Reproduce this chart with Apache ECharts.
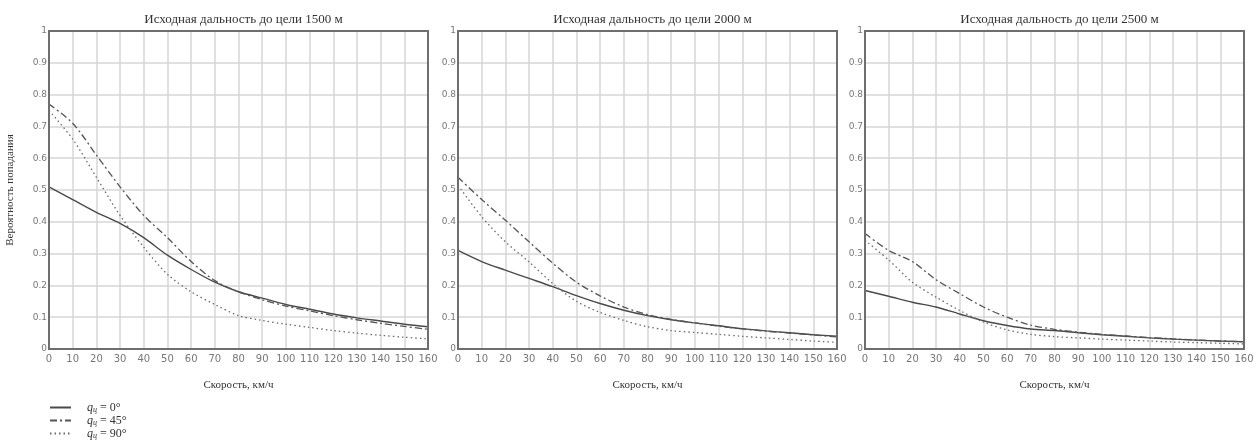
<!DOCTYPE html>
<html>
<head>
<meta charset="utf-8">
<script src="https://cdn.jsdelivr.net/npm/echarts@6/dist/echarts.min.js"></script>
<style>
  html, body { margin: 0; padding: 0; background: #fff; }
  #chart { width: 1258px; height: 445px; }
</style>
</head>
<body>
<div id="chart"></div>
<script>
// Скорость цели, км/ч
const speeds = [0, 10, 20, 30, 40, 50, 60, 70, 80, 90, 100, 110, 120, 130, 140, 150, 160];

// Вероятность попадания, дальность 1500 м
const r1500_q0  = [0.51, 0.47, 0.43, 0.395, 0.35, 0.295, 0.25, 0.21, 0.18, 0.16, 0.14, 0.125, 0.11, 0.098, 0.088, 0.078, 0.07];
const r1500_q45 = [0.77, 0.71, 0.61, 0.51, 0.42, 0.35, 0.275, 0.215, 0.18, 0.155, 0.135, 0.12, 0.105, 0.092, 0.081, 0.071, 0.062];
const r1500_q90 = [0.75, 0.66, 0.54, 0.42, 0.32, 0.235, 0.18, 0.14, 0.105, 0.09, 0.078, 0.068, 0.058, 0.05, 0.043, 0.037, 0.032];

// Дальность 2000 м
const r2000_q0  = [0.31, 0.275, 0.248, 0.222, 0.196, 0.168, 0.143, 0.122, 0.105, 0.092, 0.082, 0.073, 0.064, 0.057, 0.051, 0.045, 0.04];
const r2000_q45 = [0.54, 0.47, 0.405, 0.337, 0.27, 0.21, 0.167, 0.132, 0.108, 0.093, 0.082, 0.072, 0.063, 0.056, 0.05, 0.044, 0.038];
const r2000_q90 = [0.515, 0.416, 0.337, 0.274, 0.206, 0.15, 0.115, 0.09, 0.07, 0.058, 0.052, 0.046, 0.04, 0.035, 0.03, 0.025, 0.021];

// Дальность 2500 м
const r2500_q0  = [0.184, 0.166, 0.147, 0.132, 0.11, 0.089, 0.074, 0.063, 0.058, 0.051, 0.045, 0.04, 0.035, 0.031, 0.028, 0.025, 0.023];
const r2500_q45 = [0.363, 0.31, 0.275, 0.218, 0.174, 0.132, 0.1, 0.075, 0.062, 0.053, 0.046, 0.041, 0.036, 0.032, 0.028, 0.025, 0.023];
const r2500_q90 = [0.342, 0.28, 0.21, 0.163, 0.121, 0.085, 0.06, 0.046, 0.039, 0.035, 0.031, 0.028, 0.025, 0.022, 0.02, 0.018, 0.016];

const panelTitles = [
  'Исходная дальность до цели 1500 м',
  'Исходная дальность до цели 2000 м',
  'Исходная дальность до цели 2500 м'
];
const seriesNames = ['q0', 'q45', 'q90'];
const legendLabels = { q0: '0°', q45: '45°', q90: '90°' };
const panelData = [
  [r1500_q0, r1500_q45, r1500_q90],
  [r2000_q0, r2000_q45, r2000_q90],
  [r2500_q0, r2500_q45, r2500_q90]
];

const xAxisName = 'Скорость, км/ч';
const yAxisName = 'Вероятность попадания';

const gridLefts = [49, 458, 865];
const gridWidth = 379;
const gridTop = 31;
const gridHeight = 318;

const lineStyles = [
  { color: '#4a4a4a', width: 1.4, type: 'solid' },
  { color: '#555555', width: 1.3, type: [7, 3, 2, 3] },
  { color: '#6a6a6a', width: 1.3, type: [1.5, 3] }
];

const serif = '"Liberation Serif", "DejaVu Serif", serif';

const grids = [], xAxes = [], yAxes = [], titles = [], series = [];
gridLefts.forEach((left, i) => {
  grids.push({ left: left, top: gridTop, width: gridWidth, height: gridHeight, show: false });
  titles.push({
    text: panelTitles[i],
    left: left + gridWidth / 2,
    top: 8,
    textAlign: 'center',
    textStyle: { fontFamily: serif, fontSize: 13, fontWeight: 'normal', color: '#333' }
  });
  xAxes.push({
    type: 'value', gridIndex: i, min: 0, max: 160, interval: 10,
    name: xAxisName, nameLocation: 'middle', nameGap: 31,
    nameTextStyle: { fontFamily: serif, fontSize: 11, color: '#333' },
    axisLine: { show: true, lineStyle: { color: '#6e6e6e', width: 2 } },
    axisTick: { show: false },
    axisLabel: { color: '#777', fontSize: 10, margin: 5, fontFamily: '"DejaVu Sans", sans-serif' },
    splitLine: { show: true, lineStyle: { color: '#d6d6d6', width: 1.5 } }
  });
  yAxes.push({
    type: 'value', gridIndex: i, min: 0, max: 1, interval: 0.1,
    name: i === 0 ? yAxisName : '', nameLocation: 'middle', nameGap: 33, nameRotate: 90,
    nameTextStyle: { fontFamily: serif, fontSize: 11, color: '#333' },
    axisLine: { show: true, lineStyle: { color: '#6e6e6e', width: 2 } },
    axisTick: { show: false },
    axisLabel: { color: '#777', fontSize: 9, margin: 2, fontFamily: '"DejaVu Sans", sans-serif',
      formatter: v => String(+v.toFixed(1)) },
    splitLine: { show: true, lineStyle: { color: '#d6d6d6', width: 1.5 } }
  });
  panelData[i].forEach((vals, k) => {
    series.push({
      name: seriesNames[k],
      type: 'line',
      xAxisIndex: i, yAxisIndex: i,
      data: speeds.map((s, j) => [s, vals[j]]),
      smooth: 0.3,
      symbol: 'none',
      lineStyle: lineStyles[k],
      itemStyle: { color: lineStyles[k].color },
      silent: true
    });
  });
});

// Рамка вокруг каждого графика
const frames = gridLefts.map(left => ({
  type: 'rect',
  shape: { x: left, y: gridTop, width: gridWidth, height: gridHeight },
  style: { fill: null, stroke: '#6e6e6e', lineWidth: 2 },
  silent: true,
  z: 10
}));

const chart = echarts.init(document.getElementById('chart'), null, { renderer: 'canvas' });
chart.setOption({
  animation: false,
  backgroundColor: '#fff',
  title: titles,
  grid: grids,
  xAxis: xAxes,
  yAxis: yAxes,
  series: series,
  graphic: frames,
  legend: {
    data: seriesNames,
    orient: 'vertical',
    left: 49,
    top: 401,
    height: 60,
    padding: 0,
    itemWidth: 21,
    itemHeight: 10,
    itemGap: 0,
    itemStyle: { color: 'rgba(0,0,0,0)', borderColor: 'rgba(0,0,0,0)', borderWidth: 0 },
    formatter: name => '{q|q}{s|ц}{t| = ' + legendLabels[name] + '}',
    textStyle: {
      color: '#333',
      lineHeight: 12,
      padding: [0, 0, 0, 11],
      rich: {
        q: { fontFamily: serif, fontStyle: 'italic', fontSize: 12, color: '#333', lineHeight: 12 },
        s: { fontFamily: serif, fontStyle: 'italic', fontSize: 8, color: '#333', lineHeight: 12, padding: [5, 0, 0, 0] },
        t: { fontFamily: serif, fontSize: 12, color: '#333', lineHeight: 12 }
      }
    },
    selectedMode: false
  }
});
</script>
</body>
</html>
